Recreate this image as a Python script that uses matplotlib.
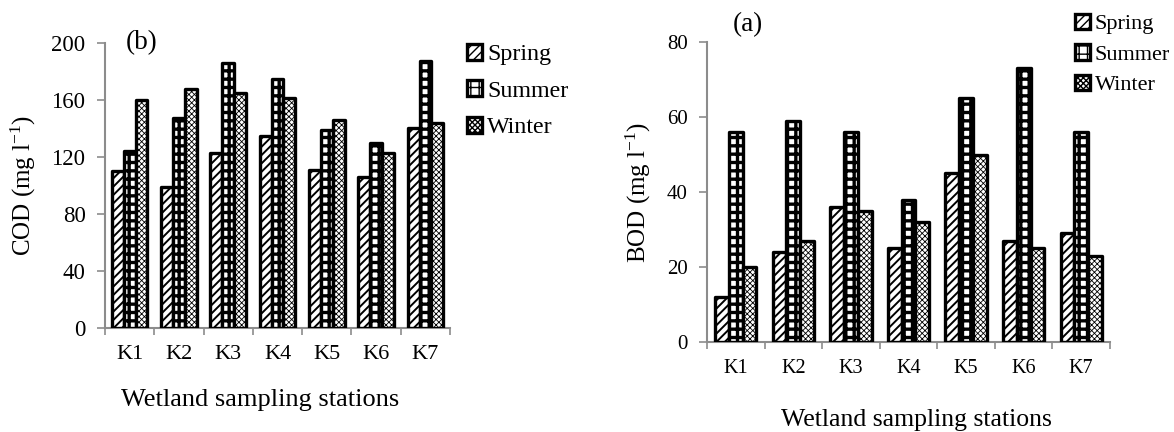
import matplotlib
matplotlib.use("Agg")
import matplotlib.pyplot as plt
import numpy as np

plt.rcParams['font.family'] = ['Liberation Serif', 'DejaVu Serif']
plt.rcParams['mathtext.fontset'] = 'custom'
plt.rcParams['mathtext.rm'] = 'Liberation Serif'

stations = ['K1', 'K2', 'K3', 'K4', 'K5', 'K6', 'K7']
seasons = ['Spring', 'Summer', 'Winter']

cod_spring = [110, 99, 123, 135, 111, 106, 140]
cod_summer = [124, 147, 186, 175, 139, 130, 187]
cod_winter = [160, 168, 165, 161, 146, 123, 144]

bod_spring = [12, 24, 36, 25, 45, 27, 29]
bod_summer = [56, 59, 56, 38, 65, 73, 56]
bod_winter = [20, 27, 35, 32, 50, 25, 23]

hatches = ['////', '++', 'xxxxxx']
hatch_lw = [1.4, 2.4, 0.6]
axis_col = '#8c8c8c'


def draw(ax, series, ymax, ystep, tick_fs, cat_fs):
    x = np.arange(len(stations))
    w = 0.24
    for i, vals in enumerate(series):
        with plt.rc_context({'hatch.linewidth': hatch_lw[i], 'hatch.color': 'black'}):
            bars = ax.bar(x + (i - 1) * w, vals, w, facecolor='white',
                          edgecolor='black', linewidth=2.4, hatch=hatches[i],
                          label=seasons[i], zorder=3)
        for b in bars:
            b.set_joinstyle('round')
            if hasattr(b, 'set_hatch_linewidth'):
                b.set_hatch_linewidth(hatch_lw[i])
    ax.set_xlim(-0.5, len(stations) - 0.5)
    ax.set_ylim(0, ymax)
    ax.set_yticks(np.arange(0, ymax + 1, ystep))
    ax.set_xticks(x)
    ax.set_xticklabels(stations, fontsize=cat_fs)
    ax.set_xticks(np.arange(-0.5, len(stations)), minor=True)
    ax.tick_params(axis='x', which='major', length=0, pad=12)
    ax.tick_params(axis='x', which='minor', length=5, color=axis_col, width=1.2)
    ax.tick_params(axis='y', length=6, color=axis_col, width=1.2, labelsize=tick_fs, pad=8)
    for s in ['top', 'right']:
        ax.spines[s].set_visible(False)
    for s in ['left', 'bottom']:
        ax.spines[s].set_color(axis_col)
        ax.spines[s].set_linewidth(1.5)


fig = plt.figure(figsize=(11.74, 4.32), dpi=100)

ax1 = fig.add_axes([0.0894, 0.2407, 0.294, 0.66])
draw(ax1, [cod_spring, cod_summer, cod_winter], 200, 40, 16.5, 16)
ax1.set_ylabel('COD (mg l$\\mathregular{^{-1}}$)', fontsize=18, va='center')
ax1.yaxis.set_label_coords(-0.235, 0.5)
ax1.set_xlabel('Wetland sampling stations', fontsize=19, va='center')
ax1.xaxis.set_label_coords(0.45, -0.253)
ax1.text(0.06, 1.0, '(b)', transform=ax1.transAxes, fontsize=19.5, va='center')
ax1.legend(loc='upper left', bbox_to_anchor=(1.02, 1.03), frameon=False,
           fontsize=17.3, handlelength=0.65, handleheight=0.65, handletextpad=0.2,
           labelspacing=0.62, borderaxespad=0)

ax2 = fig.add_axes([0.6022, 0.2083, 0.3433, 0.694])
draw(ax2, [bod_spring, bod_summer, bod_winter], 80, 20, 15, 14.5)
ax2.set_ylabel('BOD (mg l$\\mathregular{^{-1}}$)', fontsize=18, va='center')
ax2.yaxis.set_label_coords(-0.171, 0.5)
ax2.set_xlabel('Wetland sampling stations', fontsize=18.5, va='center')
ax2.xaxis.set_label_coords(0.52, -0.26)
ax2.text(0.065, 1.06, '(a)', transform=ax2.transAxes, fontsize=19.5, va='center')
ax2.legend(loc='upper left', bbox_to_anchor=(0.89, 1.125), frameon=False,
           fontsize=16, handlelength=0.7, handleheight=0.7, handletextpad=0.2,
           labelspacing=0.45, borderaxespad=0)

fig.savefig('out.png', dpi=100)
